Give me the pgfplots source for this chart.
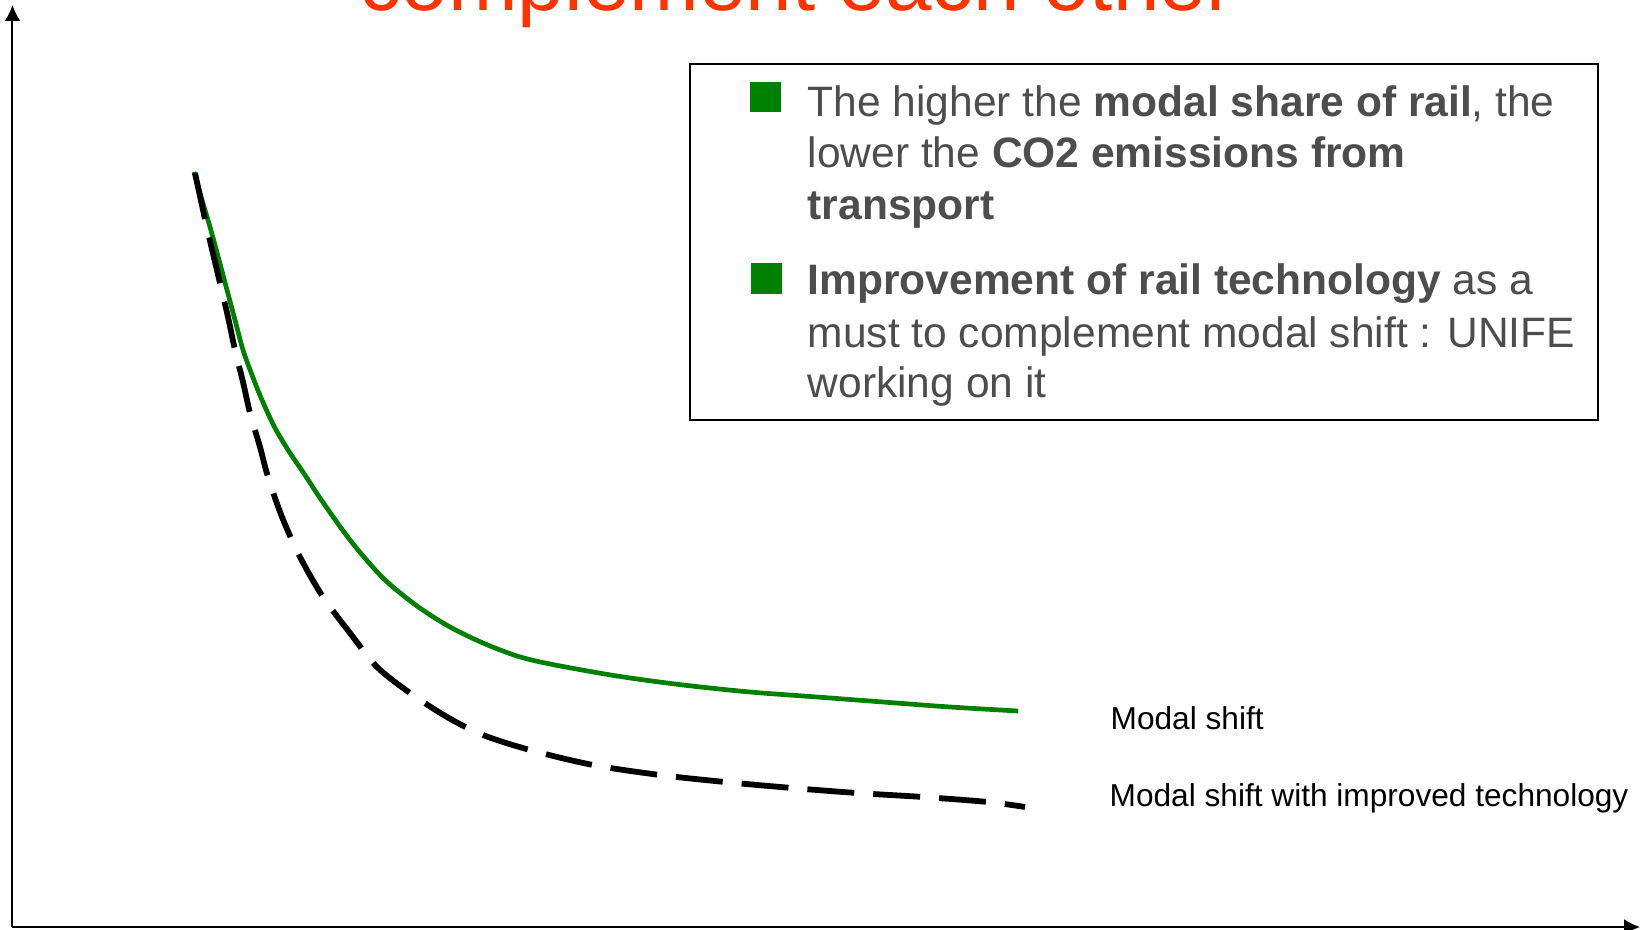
\documentclass[border=0pt]{standalone}
\usepackage{fontspec}
\setmainfont{Liberation Sans}
\usepackage{pgfplots}
\pgfplotsset{compat=1.18}
\usetikzlibrary{arrows.meta}
\definecolor{curvegreen}{RGB}{0,128,0}
\definecolor{titlered}{RGB}{255,51,0}
\definecolor{boxgrey}{RGB}{77,77,77}
\begin{document}
\begin{tikzpicture}
\begin{axis}[
  x=0.1mm, y=0.1mm,
  xmin=12.5, xmax=1640, ymin=2, ymax=924,
  axis lines*=left,
  axis line style={line width=0.2mm, -{Latex[length=1.6mm,width=1.6mm]}},
  xtick=\empty, ytick=\empty,
  clip=false,
]
\addplot[curvegreen, line width=0.47mm, line join=round, smooth, tension=0.5] coordinates {
(194,757) (202,729) (210,702) (219,669) (227,639) (235,609) (243,579) (252,554)
(262,529) (275,501) (290,476) (305,454) (320,431) (350,389) (383,351) (417,323)
(450,302) (483,286) (517,273) (550,265) (617,253) (683,244) (750,237) (817,232)
(883,227) (950,222) (1018,218)
};
\addplot[black, line width=0.58mm, dash pattern=on 4.7mm off 1.9mm, smooth, tension=0.5] coordinates {
(195,756) (207,701) (220,646) (228,612) (235,579) (243,547) (250,516) (260,482)
(268,452) (282,412) (300,372) (323,332) (350,296) (377,262) (410,236) (447,212)
(483,194) (530,179) (593,164) (660,154) (725,147) (792,141) (857,136) (923,132)
(988,127) (1025,122)
};
\coordinate (pbl) at (axis cs:0,0);
\coordinate (ptr) at (axis cs:1642,929);
% title (cut off at top, as in the reference)
\node[anchor=base, text=titlered, font=\fontsize{23.8}{28}\selectfont, inner sep=0pt] at (axis cs:797,918) {complement each other};
% text box
\draw[black, line width=0.2mm] (axis cs:690,865) rectangle (axis cs:1598,509);
\fill[curvegreen] (axis cs:750,847) rectangle (axis cs:781,817);
\fill[curvegreen] (axis cs:751,666) rectangle (axis cs:782,635);
\begin{scope}[every node/.style={anchor=base west, inner sep=0pt, text=boxgrey, font=\fontsize{12.1}{14.5}\selectfont}]
\node at (axis cs:807,812) {The higher the \textbf{modal share of rail}, the};
\node at (axis cs:807,761) {lower the \textbf{CO2 emissions from}};
\node at (axis cs:807,709) {\textbf{transport}};
\node at (axis cs:807,634) {\textbf{Improvement of rail technology} as a};
\node at (axis cs:807,581) {must to complement modal shift : UNIFE};
\node at (axis cs:807,531) {working on it};
\end{scope}
\node[anchor=base west, inner sep=0pt, font=\fontsize{9}{11}\selectfont] at (axis cs:1110,200) {Modal shift};
\node[anchor=base west, inner sep=0pt, font=\fontsize{9}{11}\selectfont] at (axis cs:1109,123) {Modal shift with improved technology};
\end{axis}
\pgfresetboundingbox
\useasboundingbox (pbl) rectangle (ptr);
\end{tikzpicture}
\end{document}
